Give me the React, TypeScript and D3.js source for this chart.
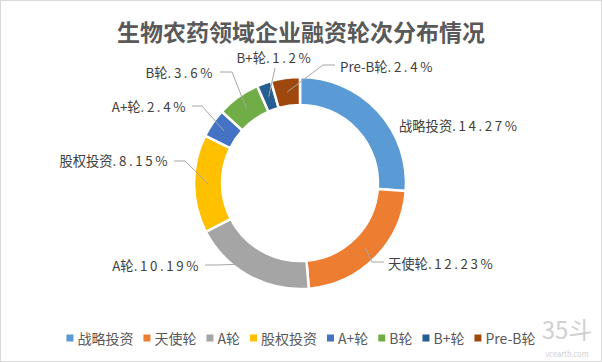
import React, { useEffect, useRef } from "react";
import * as d3 from "d3";

// Donut chart of financing rounds for bio-pesticide companies.
const categories = ["战略投资", "天使轮", "A轮", "股权投资", "A+轮", "B轮", "B+轮", "Pre-B轮"];
const shares = [14.27, 12.23, 10.19, 8.15, 2.4, 3.6, 1.2, 2.4];
const shareLabels = ["14.27%", "12.23%", "10.19%", "8.15%", "2.4%", "3.6%", "1.2%", "2.4%"];
const colors = ["#5B9BD5", "#ED7D31", "#A5A5A5", "#FFC000", "#4472C4", "#70AD47", "#255E91", "#9E480E"];

// label placement relative to the donut centre: text point, anchor, leader elbow + end
type LabelLayout = { t: [number, number]; anchor: string; leader: [number, number][] };
const labelLayout: LabelLayout[] = [
  { t: [99, -58], anchor: "start", leader: [] },
  { t: [88, 80], anchor: "start", leader: [[72, 79], [84, 79]] },
  { t: [-99, 82], anchor: "end", leader: [[-83, 82], [-95, 82]] },
  { t: [-130, -23], anchor: "end", leader: [[-115, -22], [-126, -22]] },
  { t: [-112, -77], anchor: "end", leader: [[-98, -77], [-108, -77]] },
  { t: [-85, -111], anchor: "end", leader: [[-68, -111], [-80, -111]] },
  { t: [-25, -126], anchor: "middle", leader: [[-25, -115]] },
  { t: [40, -117], anchor: "start", leader: [[23, -118], [35, -118]] },
];

const W = 602;
const H = 362;
const FONT = "'Noto Sans CJK SC', 'Noto Sans', sans-serif";

export default function App() {
  const ref = useRef<SVGSVGElement | null>(null);

  useEffect(() => {
    const svg = d3.select(ref.current);
    svg.selectAll("*").remove();

    svg
      .append("rect")
      .attr("x", 0.5)
      .attr("y", 0.5)
      .attr("width", W - 1)
      .attr("height", H - 1)
      .attr("fill", "#fff")
      .attr("stroke", "#d9d9d9");

    svg
      .append("text")
      .attr("x", 301)
      .attr("y", 31)
      .attr("text-anchor", "middle")
      .attr("dominant-baseline", "central")
      .attr("font-family", FONT)
      .attr("font-weight", 700)
      .attr("font-size", 23)
      .attr("fill", "#595959")
      .text("生物农药领域企业融资轮次分布情况");

    const cx = 300;
    const cy = 183;
    const g = svg.append("g").attr("transform", `translate(${cx},${cy})`);

    const rows = categories.map((c, i) => ({ c, v: shares[i], label: shareLabels[i], color: colors[i], i }));
    const pie = d3.pie<any>().value((d) => d.v).sort(null);
    const arcs = pie(rows);
    const arc = d3.arc<any>().innerRadius(78).outerRadius(106);
    const mid = d3.arc<any>().innerRadius(92).outerRadius(92);

    g.selectAll("path.slice")
      .data(arcs)
      .join("path")
      .attr("class", "slice")
      .attr("d", arc)
      .attr("fill", (d) => d.data.color)
      .attr("stroke", "#fff")
      .attr("stroke-width", 2.5);

    // leader lines
    const line = d3.line();
    arcs.forEach((a, i) => {
      const lay = labelLayout[i];
      if (!lay.leader.length) return;
      const pts = [mid.centroid(a) as [number, number], ...lay.leader];
      g.append("path")
        .attr("d", line(pts))
        .attr("fill", "none")
        .attr("stroke", "#a6a6a6")
        .attr("stroke-width", 1);
    });

    arcs.forEach((a, i) => {
      const lay = labelLayout[i];
      const t = g
        .append("text")
        .attr("x", lay.t[0])
        .attr("y", lay.t[1])
        .attr("text-anchor", lay.anchor)
        .attr("dominant-baseline", "central")
        .attr("font-family", FONT)
        .attr("font-size", 13.3)
        .attr("fill", "#404040");
      t.append("tspan").text(a.data.c);
      t.append("tspan").attr("letter-spacing", 2.6).text("." + a.data.label);
    });

    // legend, centred
    const lg = svg.append("g");
    let x = 0;
    rows.forEach((r) => {
      lg.append("rect")
        .attr("x", x)
        .attr("y", 338 - 3.5)
        .attr("width", 7)
        .attr("height", 7)
        .attr("fill", r.color);
      const tx = lg
        .append("text")
        .attr("x", x + 11)
        .attr("y", 338)
        .attr("dominant-baseline", "central")
        .attr("font-family", FONT)
        .attr("font-size", 14)
        .attr("fill", "#595959")
        .text(r.c);
      const w = (tx.node() as SVGTextElement).getComputedTextLength();
      x += 11 + w + 10;
    });
    const total = x - 10;
    lg.attr("transform", `translate(${301 - total / 2},0)`);

    // watermark
    svg
      .append("text")
      .attr("x", 567)
      .attr("y", 328)
      .attr("text-anchor", "middle")
      .attr("dominant-baseline", "central")
      .attr("font-family", FONT)
      .attr("font-size", 24)
      .attr("fill", "#d0d0d0")
      .text("35斗");
    svg
      .append("text")
      .attr("x", 567)
      .attr("y", 353)
      .attr("text-anchor", "middle")
      .attr("dominant-baseline", "central")
      .attr("font-family", FONT)
      .attr("font-size", 7.5)
      .attr("fill", "#d0d0d0")
      .text("vcearth.com");
  }, []);

  return (
    <svg
      ref={ref}
      width={W}
      height={H}
      style={{ position: "absolute", left: 0, top: 0, display: "block" }}
    />
  );
}
